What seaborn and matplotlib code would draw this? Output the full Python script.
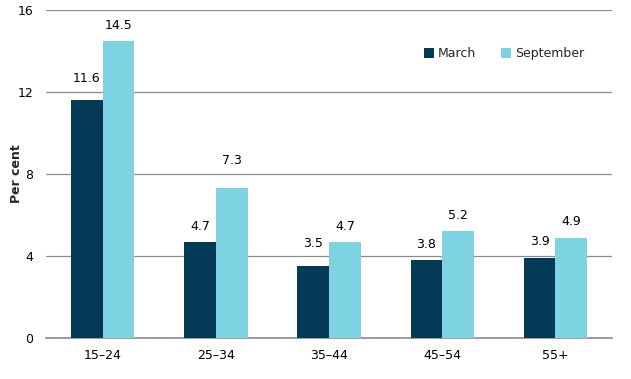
import pandas as pd
import matplotlib.pyplot as plt
import seaborn as sns

# Values
age_groups = ['15–24', '25–34', '35–44', '45–54', '55+']
march = [11.6, 4.7, 3.5, 3.8, 3.9]
september = [14.5, 7.3, 4.7, 5.2, 4.9]
series_names = ['March', 'September']
y_ticks = [0, 4, 8, 12, 16]

sns.set_style('white')
plt.rcParams['font.family'] = ['DejaVu Sans']

df = pd.DataFrame({
    'age': age_groups * 2,
    'value': march + september,
    'series': [series_names[0]] * len(age_groups) + [series_names[1]] * len(age_groups),
})

fig = plt.figure(figsize=(6.31, 3.79), dpi=100)
ax = fig.add_axes([0.073, 0.108, 0.897, 0.866])

palette = {'March': '#053a57', 'September': '#7dd3e2'}
sns.barplot(data=df, x='age', y='value', hue='series', palette=palette,
            width=0.56, saturation=1, linewidth=0, ax=ax, zorder=3)

# value labels above bars (label offsets vary a little in the original)
label_pads = [[11, 6.5, 11.5, 6.5, 7], [6.5, 15, 6.5, 7, 7]]
for container, pads in zip(ax.containers, label_pads):
    for bar, pad in zip(container, pads):
        ax.annotate(f'{bar.get_height():.1f}',
                    (bar.get_x() + bar.get_width() / 2, bar.get_height()),
                    xytext=(0, pad), textcoords='offset points',
                    ha='center', va='bottom', fontsize=9, color='black')

ax.set_ylim(0, 16)
ax.set_yticks(y_ticks)
ax.set_xlim(-0.5, 4.5)
ax.yaxis.grid(True, color='#8c8c8c', linewidth=0.9, zorder=0)
ax.xaxis.grid(False)
for side in ['top', 'right', 'left']:
    ax.spines[side].set_visible(False)
ax.spines['bottom'].set_color('#8c8c8c')
ax.spines['bottom'].set_linewidth(1.2)
ax.tick_params(axis='both', length=0, labelsize=9, colors='black')
ax.tick_params(axis='x', pad=8)
ax.tick_params(axis='y', pad=9)
ax.set_xlabel('')
ax.set_ylabel('Per cent', fontsize=9, fontweight='bold')
ax.yaxis.set_label_coords(-0.04, 0.5)

ax.legend(title=None, frameon=False, fontsize=9, loc='upper right',
          bbox_to_anchor=(0.97, 0.92), ncol=2, handlelength=0.8,
          handleheight=0.8, columnspacing=2.0, handletextpad=0.3)

fig.savefig('out.png', dpi=100)
